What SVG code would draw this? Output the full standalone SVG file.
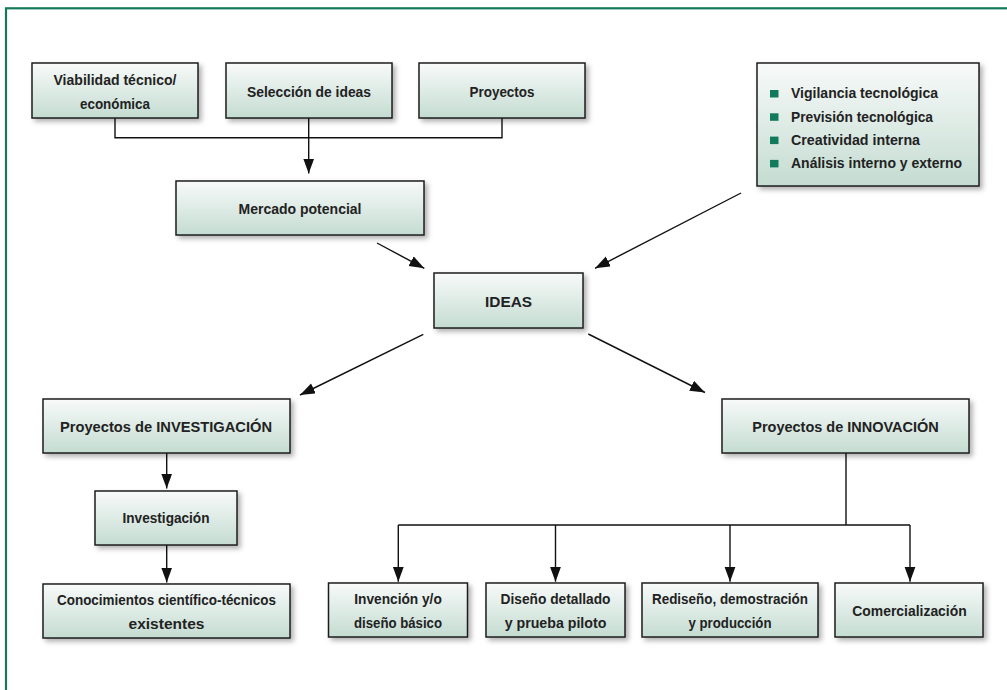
<svg xmlns="http://www.w3.org/2000/svg" width="1007" height="690" viewBox="0 0 1007 690">
<defs>
<linearGradient id="g" x1="0" y1="0" x2="0" y2="1">
<stop offset="0" stop-color="#f8faf9"/>
<stop offset="1" stop-color="#c4dcd2"/>
</linearGradient>
<filter id="sh" x="-10%" y="-20%" width="130%" height="160%">
<feDropShadow dx="3" dy="3" stdDeviation="2.5" flood-color="#000" flood-opacity="0.3"/>
</filter>
<marker id="ah" markerUnits="userSpaceOnUse" markerWidth="16" markerHeight="12" refX="15" refY="5.5" orient="auto">
<path d="M0,0 L15,5.5 L0,11 z" fill="#111"/>
</marker>
<style>
.box{fill:url(#g);stroke:#1e1e1e;stroke-width:1.5;filter:url(#sh)}
.t{font-family:"Liberation Sans Narrow","Liberation Sans",Arial,sans-serif;font-weight:bold;font-size:15px;fill:#222;text-anchor:middle}
.l{text-anchor:start}
.c{fill:none;stroke:#111;stroke-width:1.4}
.a{marker-end:url(#ah)}
.b{fill:#127a5c}
</style>
</defs>
<rect width="1007" height="690" fill="#fff"/>
<rect x="6" y="8.3" width="1010" height="700" fill="none" stroke="#14785c" stroke-width="2.2"/>

<g id="connectors">
<path class="c" d="M115,118 V137.7 H502 V118"/>
<path class="c a" d="M308.7,118 V173.5"/>
<path class="c a" d="M377,243 L424.3,268.3"/>
<path class="c a" d="M741,193 L595,268.3"/>
<path class="c a" d="M423.3,334.3 L300,395"/>
<path class="c a" d="M588.3,334 L705,392.5"/>
<path class="c a" d="M166.7,453 V488.5"/>
<path class="c a" d="M166.7,545 V582.5"/>
<path class="c" d="M846,453 V525 M398.3,525 H910"/>
<path class="c a" d="M398.3,525 V581.7"/>
<path class="c a" d="M555.5,525 V581.7"/>
<path class="c a" d="M730,525 V581.7"/>
<path class="c a" d="M910,525 V581.7"/>
</g>

<g id="viabilidad">
<rect class="box" x="32" y="63" width="166" height="55"/>
<text class="t" x="115" y="85" textLength="123" lengthAdjust="spacingAndGlyphs">Viabilidad técnico/</text>
<text class="t" x="115" y="108.5" textLength="70" lengthAdjust="spacingAndGlyphs">económica</text>
</g>
<g id="seleccion">
<rect class="box" x="226" y="63" width="166" height="55"/>
<text class="t" x="309" y="96.5" textLength="124" lengthAdjust="spacingAndGlyphs">Selección de ideas</text>
</g>
<g id="proyectos">
<rect class="box" x="419" y="63" width="166" height="55"/>
<text class="t" x="502" y="96.5" textLength="65" lengthAdjust="spacingAndGlyphs">Proyectos</text>
</g>
<g id="mercado">
<rect class="box" x="176" y="181" width="248" height="54"/>
<text class="t" x="300" y="214" textLength="123" lengthAdjust="spacingAndGlyphs">Mercado potencial</text>
</g>
<g id="fuentes">
<rect class="box" x="757" y="63" width="222" height="123"/>
<rect class="b" x="770" y="90" width="8.5" height="7.5"/>
<rect class="b" x="770" y="113.3" width="8.5" height="7.5"/>
<rect class="b" x="770" y="136.6" width="8.5" height="7.5"/>
<rect class="b" x="770" y="159.9" width="8.5" height="7.5"/>
<text class="t l" x="791" y="98.3" textLength="147" lengthAdjust="spacingAndGlyphs">Vigilancia tecnológica</text>
<text class="t l" x="791" y="121.7" textLength="142" lengthAdjust="spacingAndGlyphs">Previsión tecnológica</text>
<text class="t l" x="791" y="145" textLength="129" lengthAdjust="spacingAndGlyphs">Creatividad interna</text>
<text class="t l" x="791" y="168.3" textLength="171" lengthAdjust="spacingAndGlyphs">Análisis interno y externo</text>
</g>
<g id="ideas">
<rect class="box" x="434" y="273" width="149" height="55"/>
<text class="t" x="508.5" y="306.7" textLength="47" lengthAdjust="spacingAndGlyphs">IDEAS</text>
</g>
<g id="proy-investigacion">
<rect class="box" x="43" y="399" width="247" height="54"/>
<text class="t" x="166" y="431.7" textLength="212" lengthAdjust="spacingAndGlyphs">Proyectos de INVESTIGACIÓN</text>
</g>
<g id="investigacion">
<rect class="box" x="95" y="491" width="142" height="54"/>
<text class="t" x="166" y="523.3" textLength="87" lengthAdjust="spacingAndGlyphs">Investigación</text>
</g>
<g id="conocimientos">
<rect class="box" x="43" y="584" width="247" height="54"/>
<text class="t" x="166.5" y="605" textLength="219" lengthAdjust="spacingAndGlyphs">Conocimientos científico-técnicos</text>
<text class="t" x="166.5" y="628.5" textLength="76" lengthAdjust="spacingAndGlyphs">existentes</text>
</g>
<g id="proy-innovacion">
<rect class="box" x="722" y="399" width="247" height="54"/>
<text class="t" x="845.5" y="431.5" textLength="186.5" lengthAdjust="spacingAndGlyphs">Proyectos de INNOVACIÓN</text>
</g>
<g id="invencion">
<rect class="box" x="328.5" y="583" width="139" height="54"/>
<text class="t" x="398" y="604" textLength="87.5" lengthAdjust="spacingAndGlyphs">Invención y/o</text>
<text class="t" x="398" y="628" textLength="88" lengthAdjust="spacingAndGlyphs">diseño básico</text>
</g>
<g id="diseno">
<rect class="box" x="486" y="583" width="139" height="54"/>
<text class="t" x="555.5" y="604" textLength="110" lengthAdjust="spacingAndGlyphs">Diseño detallado</text>
<text class="t" x="555.5" y="628" textLength="101.7" lengthAdjust="spacingAndGlyphs">y prueba piloto</text>
</g>
<g id="rediseno">
<rect class="box" x="642" y="583" width="176" height="54"/>
<text class="t" x="730" y="604" textLength="156" lengthAdjust="spacingAndGlyphs">Rediseño, demostración</text>
<text class="t" x="730" y="628" textLength="83" lengthAdjust="spacingAndGlyphs">y producción</text>
</g>
<g id="comercializacion">
<rect class="box" x="835" y="583" width="148" height="54"/>
<text class="t" x="909.5" y="616" textLength="114.5" lengthAdjust="spacingAndGlyphs">Comercialización</text>
</g>
</svg>
